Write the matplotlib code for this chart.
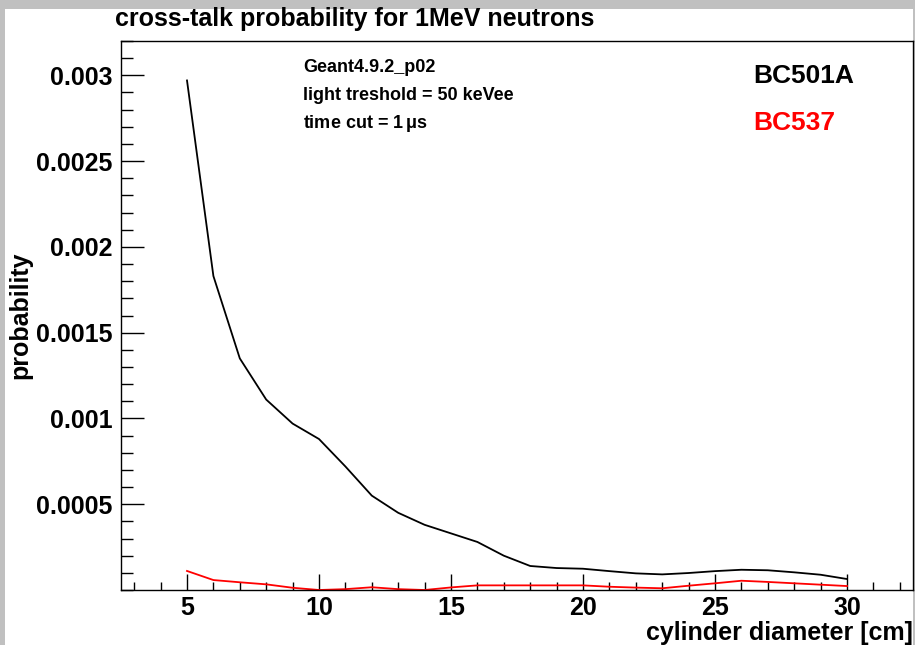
import numpy as np
import matplotlib
matplotlib.use('Agg')
import matplotlib.pyplot as plt
from matplotlib.patches import Rectangle
from matplotlib.ticker import MultipleLocator, FixedLocator

diameter = [5, 6, 7, 8, 9, 10, 11, 12, 13, 14, 15, 16, 17, 18, 19, 20, 21, 22, 23, 24, 25, 26, 27, 28, 29, 30]
bc501a = [2.97e-3, 1.83e-3, 1.35e-3, 1.11e-3, 0.97e-3, 0.88e-3, 0.72e-3, 0.55e-3, 0.45e-3, 0.38e-3,
          0.33e-3, 0.28e-3, 0.20e-3, 0.14e-3, 0.128e-3, 0.124e-3, 0.110e-3, 0.097e-3, 0.091e-3, 0.099e-3,
          0.110e-3, 0.118e-3, 0.115e-3, 0.103e-3, 0.089e-3, 0.064e-3]
bc537 = [0.111e-3, 0.058e-3, 0.045e-3, 0.033e-3, 0.013e-3, 0.0, 0.005e-3, 0.016e-3, 0.005e-3, 0.0,
         0.015e-3, 0.027e-3, 0.027e-3, 0.027e-3, 0.027e-3, 0.027e-3, 0.019e-3, 0.014e-3, 0.010e-3, 0.025e-3,
         0.039e-3, 0.054e-3, 0.047e-3, 0.039e-3, 0.031e-3, 0.023e-3]
y_ticks = [0.0005, 0.001, 0.0015, 0.002, 0.0025, 0.003]
y_tick_labels = ['0.0005', '0.001', '0.0015', '0.002', '0.0025', '0.003']
info_lines = ['Geant4.9.2_p02', 'light treshold = 50 keVee', 'time cut = 1$\\,\\mu$s']

plt.rcParams['font.family'] = ['Liberation Sans', 'DejaVu Sans']
plt.rcParams['mathtext.fontset'] = 'custom'
plt.rcParams['mathtext.rm'] = 'Liberation Sans:bold'
plt.rcParams['mathtext.it'] = 'Liberation Sans:bold'

W, H = 915, 645


def fx(px):
    return px / W


def fy(py):
    # pixel row from the top -> figure fraction
    return 1 - py / H


fig = plt.figure(figsize=(W / 100, H / 100), dpi=100)
fig.patch.set_facecolor('#c0c0c0')
# white canvas inside the grey window frame
fig.patches.append(Rectangle((fx(5), 0), fx(913 - 5), 1 - 9 / H, transform=fig.transFigure,
                             facecolor='white', edgecolor='none', zorder=-10))

ax = fig.add_axes([fx(121), fy(590), fx(913 - 121), (590 - 41) / H])
ax.set_zorder(5)
ax.patch.set_alpha(0)
ax.plot(diameter, bc501a, color='black', lw=1.3)
ax.plot(diameter, bc537, color='red', lw=1.3)

ax.set_xlim(2.5, 32.5)
ax.set_ylim(0, 0.0032)
ax.xaxis.set_major_locator(MultipleLocator(5))
ax.xaxis.set_minor_locator(MultipleLocator(1))
ax.yaxis.set_major_locator(FixedLocator(y_ticks))
ax.set_yticklabels(y_tick_labels)
ax.yaxis.set_minor_locator(MultipleLocator(0.0001))
ax.tick_params(axis='both', which='both', direction='in', top=False, right=False, width=1, color='black')
ax.tick_params(axis='x', which='major', length=11.5, pad=4, labelsize=18)
ax.tick_params(axis='x', which='minor', length=5.8)
ax.tick_params(axis='y', which='major', length=16.5, pad=6, labelsize=18)
ax.tick_params(axis='y', which='minor', length=8.5)
for lab in ax.get_xticklabels() + ax.get_yticklabels():
    lab.set_fontweight('bold')
for s in ax.spines.values():
    s.set_linewidth(1)

fig.text(fx(913), fy(633), 'cylinder diameter [cm]', ha='right', va='center', fontsize=18, fontweight='bold')
fig.text(fx(20), fy(315), 'probability', ha='center', va='center', rotation=90, fontsize=18, fontweight='bold')
fig.text(fx(115), fy(19), 'cross-talk probability for 1MeV neutrons', ha='left', va='center',
         fontsize=18, fontweight='bold')

for i, line in enumerate(info_lines):
    fig.text(fx(303), fy(68 + 27.5 * i), line, ha='left', va='center', fontsize=13, fontweight='bold')
fig.text(fx(753), fy(76), 'BC501A', ha='left', va='center', fontsize=19, fontweight='bold', color='black')
fig.text(fx(753), fy(123), 'BC537', ha='left', va='center', fontsize=19, fontweight='bold', color='red')

fig.savefig('out.png', dpi=100, facecolor=fig.get_facecolor())
